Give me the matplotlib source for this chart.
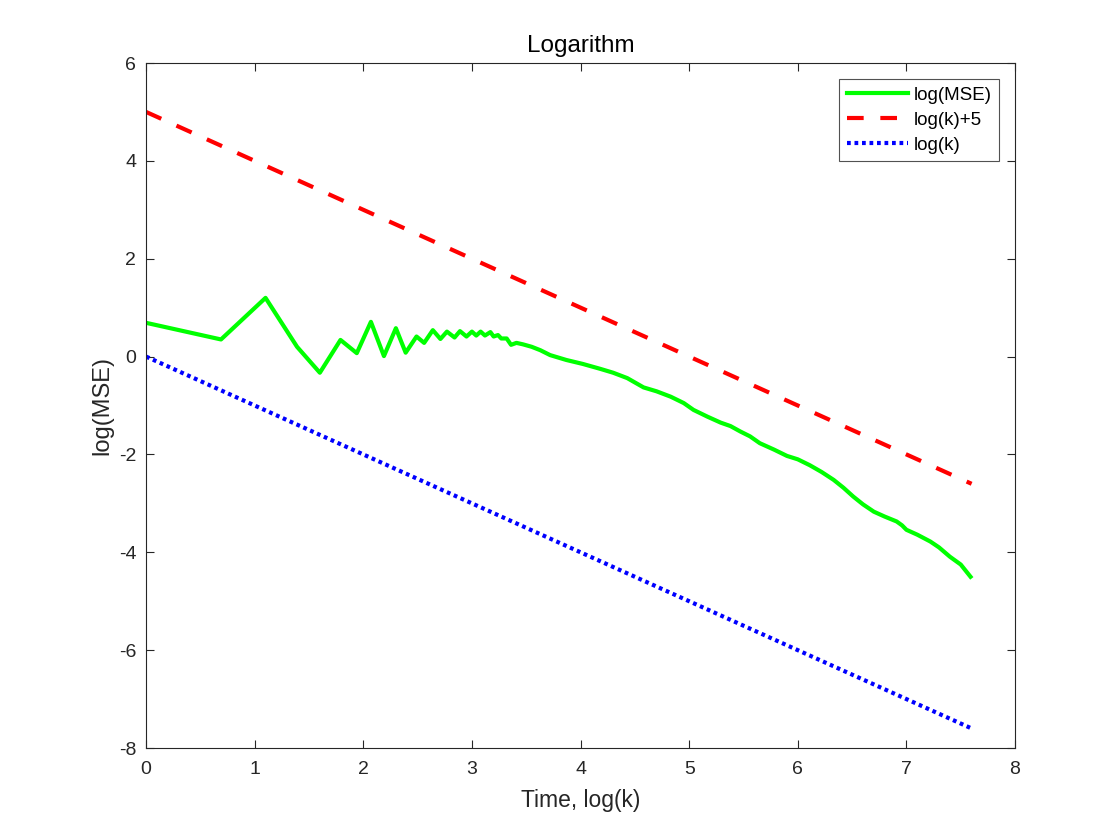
import matplotlib
matplotlib.use("Agg")
import matplotlib.pyplot as plt

plt.rcParams['font.family'] = ['Liberation Sans', 'DejaVu Sans']
plt.rcParams['axes.unicode_minus'] = False

# log(MSE), x = log(k)
mse_x = [0.00, 0.69, 1.10, 1.39, 1.60, 1.79, 1.94, 2.07, 2.19, 2.30, 2.39, 2.49,
         2.56, 2.64, 2.71, 2.77, 2.84, 2.89, 2.95, 3.00, 3.04, 3.08, 3.12, 3.17,
         3.20, 3.24, 3.27, 3.32, 3.36, 3.41, 3.47, 3.55, 3.63, 3.72, 3.87, 4.02,
         4.18, 4.30, 4.43, 4.58, 4.70, 4.83, 4.95, 5.04, 5.17, 5.29, 5.38, 5.47,
         5.56, 5.65, 5.78, 5.90, 6.00, 6.11, 6.22, 6.33, 6.42, 6.51, 6.60, 6.70,
         6.80, 6.91, 6.96, 7.00, 7.10, 7.22, 7.30, 7.40, 7.50, 7.59]
mse_y = [0.69, 0.35, 1.20, 0.20, -0.33, 0.34, 0.07, 0.71, 0.01, 0.58, 0.08, 0.41,
         0.28, 0.54, 0.36, 0.51, 0.39, 0.52, 0.41, 0.51, 0.43, 0.51, 0.43, 0.50,
         0.41, 0.44, 0.37, 0.37, 0.24, 0.28, 0.25, 0.20, 0.13, 0.03, -0.07, -0.15,
         -0.25, -0.33, -0.44, -0.63, -0.71, -0.82, -0.95, -1.09, -1.23, -1.35, -1.42, -1.53,
         -1.63, -1.77, -1.90, -2.03, -2.10, -2.22, -2.36, -2.52, -2.68, -2.86, -3.02, -3.17,
         -3.27, -3.37, -3.45, -3.54, -3.64, -3.78, -3.90, -4.09, -4.25, -4.50]

# reference lines, endpoints only
ref_x = [0.0, 7.6]
upper_y = [5.0, -2.6]
lower_y = [0.0, -7.6]

fig = plt.figure(figsize=(11.2, 8.4), dpi=100)
ax = fig.add_axes([0.1304, 0.1095, 0.7759, 0.8155])

ax.plot(mse_x, mse_y, color='#00ff00', lw=3, label='log(MSE)')
ax.plot(ref_x, upper_y, color='#ff0000', lw=3, ls=(0, (4, 4)), label='log(k)+5')
ax.plot(ref_x, lower_y, color='#0000ff', lw=3, ls=(0, (0.9, 0.9)), label='log(k)')

ax.set_xlim(0, 8)
ax.set_ylim(-8, 6)
ax.set_xticks(range(0, 9))
ax.set_yticks(range(-8, 7, 2))

ax.tick_params(direction='in', length=6, width=0.8, top=True, right=True,
               labelsize=14, colors='#262626')
ax.tick_params(axis='x', pad=9)
ax.tick_params(axis='y', pad=7)
for s in ax.spines.values():
    s.set_color('#262626')
    s.set_linewidth(0.8)

ax.set_title('Logarithm', fontsize=17.5, color='black', pad=8)
ax.set_xlabel('Time, log(k)', fontsize=16.5, color='#262626', labelpad=8)
ax.set_ylabel('log(MSE)', fontsize=17, color='#262626', labelpad=4)

leg = ax.legend(loc='upper right', fontsize=13.5, frameon=True, fancybox=False,
                edgecolor='#262626', handlelength=3.25, borderaxespad=0.85,
                labelspacing=0.42, handletextpad=0.32, borderpad=0.4)
leg.get_frame().set_linewidth(0.8)

fig.savefig('out.png', dpi=100)
